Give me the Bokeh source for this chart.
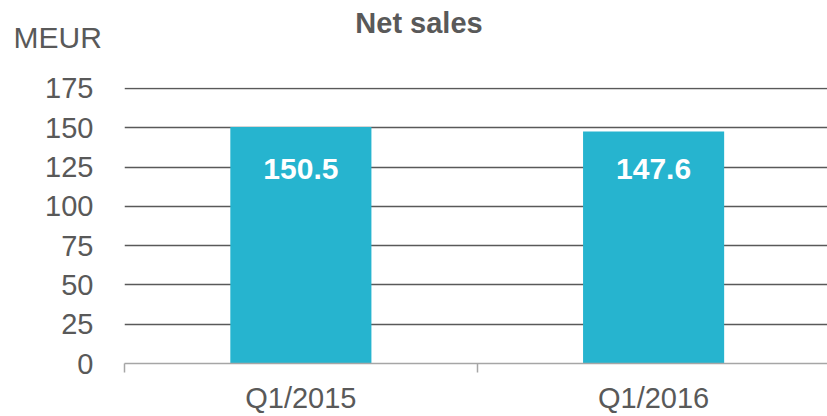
from bokeh.plotting import figure
from bokeh.models import ColumnDataSource, Range1d, FixedTicker, Label, LabelSet
from bokeh.layouts import column
from bokeh.core.properties import value
from bokeh.embed import file_html
from bokeh.resources import INLINE

categories = ["Q1/2015", "Q1/2016"]
net_sales = [150.5, 147.6]
y_ticks = [0, 25, 50, 75, 100, 125, 150, 175]
title_text = "Net sales"
unit_text = "MEUR"

TEXT = "#595959"
BAR = "#26b4cf"
FONT = "Liberation Sans"

W = 827
HEAD_H = 60
MAIN_H = 416 - HEAD_H
FRAME_TOP = 87

# ---- header with the title and the unit ----
head = figure(width=W, height=HEAD_H, output_backend="svg", toolbar_location=None,
              x_axis_location=None, y_axis_location=None,
              min_border_left=0, min_border_right=0, min_border_top=0, min_border_bottom=0,
              x_range=Range1d(0, 1), y_range=Range1d(0, 1))
head.frame_align = False
head.outline_line_color = None
head.grid.visible = False
head.add_layout(Label(x=418.5, y=HEAD_H - 22, x_units="screen", y_units="screen", text=title_text,
                      text_align="center", text_baseline="middle", text_font=FONT,
                      text_font_style="bold", text_font_size="29px", text_color=TEXT))
head.add_layout(Label(x=13, y=HEAD_H - 37, x_units="screen", y_units="screen", text=unit_text,
                      text_align="left", text_baseline="middle", text_font=FONT,
                      text_font_size="30px", text_color=TEXT))

# ---- main bar chart ----
xs = [i + 0.5 for i in range(len(categories))]
label_y = 124.0
src = ColumnDataSource(dict(x=xs, top=net_sales, cat=categories,
                            txt=[f"{v:.1f}" for v in net_sales],
                            ly=[label_y] * len(net_sales)))

p = figure(width=W, height=MAIN_H, output_backend="svg", toolbar_location=None,
           x_range=Range1d(0, 1.993), y_range=Range1d(0, 175.6),
           min_border_left=124, min_border_right=0, min_border_top=FRAME_TOP - HEAD_H,
           min_border_bottom=0)
p.frame_align = False
p.outline_line_color = None
p.background_fill_color = "white"
p.border_fill_color = "white"

p.vbar(x="x", top="top", width=0.4, bottom=0, source=src, color=BAR, line_color=None)

p.add_layout(LabelSet(x="x", y="ly", text="txt", source=src, text_align="center",
                      text_baseline="middle", text_color="white", text_font=value(FONT),
                      text_font_style="bold", text_font_size="30px"))

p.xaxis.ticker = FixedTicker(ticks=xs, minor_ticks=list(range(len(categories) + 1)))
p.xaxis.major_label_overrides = {x: c for x, c in zip(xs, categories)}
p.xaxis.major_tick_line_color = None
p.xaxis.major_tick_out = 0
p.xaxis.minor_tick_out = 9
p.xaxis.minor_tick_in = 0
p.xaxis.minor_tick_line_color = "#a6a6a6"
p.xaxis.minor_tick_line_width = 1.5
p.xaxis.axis_line_color = "#a6a6a6"
p.xaxis.axis_line_width = 1.5
p.xaxis.major_label_standoff = 9
p.xaxis.major_label_text_font = FONT
p.xaxis.major_label_text_font_size = "29px"
p.xaxis.major_label_text_color = TEXT

p.yaxis.ticker = FixedTicker(ticks=y_ticks)
p.yaxis.axis_line_color = None
p.yaxis.major_tick_line_color = None
p.yaxis.minor_tick_line_color = None
p.yaxis.major_tick_out = 0
p.yaxis.major_label_standoff = 31
p.yaxis.major_label_text_font = FONT
p.yaxis.major_label_text_font_size = "29px"
p.yaxis.major_label_text_color = TEXT

p.xgrid.grid_line_color = None
p.ygrid.ticker = FixedTicker(ticks=[t for t in y_ticks if t > 0])
p.ygrid.grid_line_color = "#595959"
p.ygrid.grid_line_width = 1.6

layout = column(head, p, spacing=0)
open("out.html", "w").write(file_html(layout, INLINE))
